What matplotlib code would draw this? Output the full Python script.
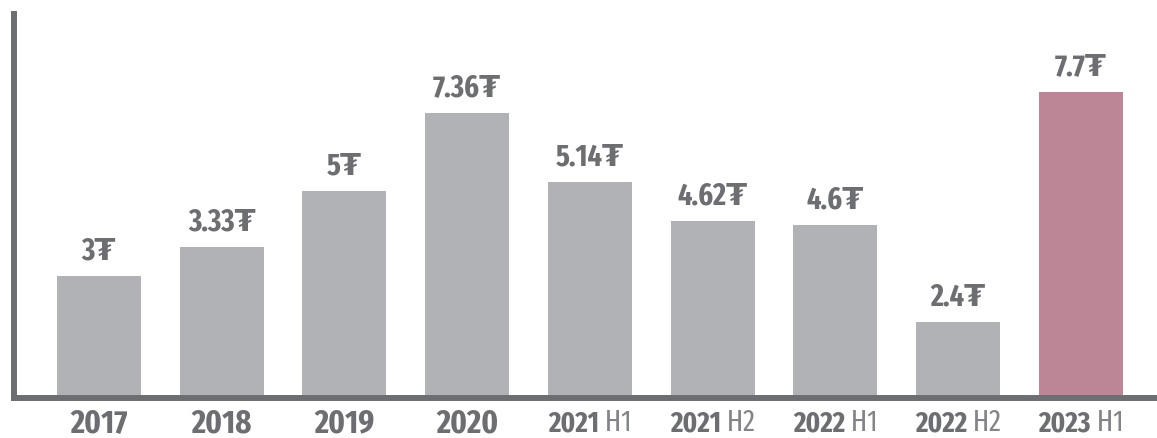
import matplotlib
matplotlib.use("Agg")
import matplotlib.pyplot as plt
import numpy as np

# データ
years = ["2017", "2018", "2019", "2020", "2021", "2021", "2022", "2022", "2023"]
halves = ["", "", "", "", "H1", "H2", "H1", "H2", "H1"]
values = ["3", "3.33", "5", "7.36", "5.14", "4.62", "4.6", "2.4", "7.7"]
# 図の棒の高さ
bar_heights = [3.07, 3.80, 5.21, 7.17, 5.44, 4.45, 4.35, 1.91, 7.70]

gray = "#B1B2B6"
pink = "#BD8697"
dark = "#6D6E71"
light = "#838488"
font = ["Fira Sans Extra Condensed", "Open Sans Condensed", "Liberation Sans Narrow", "DejaVu Sans"]

fig = plt.figure(figsize=(11.57, 4.38), dpi=100)
ax = fig.add_axes([14 / 1157, 1 - 398 / 438, 1 - 14 / 1157, 387 / 438])

x = np.arange(len(years))
colors = [gray] * (len(years) - 1) + [pink]
bars = ax.bar(x, bar_heights, width=0.684, color=colors, zorder=1)

# 値ラベル
for b, v in zip(bars, values):
    ax.annotate(v + "\u20ae", (b.get_x() + b.get_width() / 2, b.get_height()),
                xytext=(0, 12), textcoords="offset points", ha="center", va="baseline",
                fontsize=22, fontweight="bold", color=dark, family=font)

ax.set_xlim(-0.692, 8.62)
ax.set_ylim(0, 9.74)
ax.set_xticks([])
ax.set_yticks([])
for s in ["top", "right"]:
    ax.spines[s].set_visible(False)
for s in ["left", "bottom"]:
    ax.spines[s].set_linewidth(4.3)
    ax.spines[s].set_color(dark)
    ax.spines[s].set_zorder(3)
ax.spines["left"].set_capstyle("butt")

# x軸ラベル（年は太字、H1/H2は細字）
trans = ax.get_xaxis_transform()
pairs = []
for i, (y, h) in enumerate(zip(years, halves)):
    if h == "":
        ax.annotate(y, (x[i], 0), xycoords=trans, xytext=(0, -24.5), textcoords="offset points",
                    ha="center", va="baseline", fontsize=24, fontweight="bold",
                    color=dark, family=font)
    else:
        t1 = ax.annotate(y, (x[i], 0), xycoords=trans, xytext=(0, -24), textcoords="offset points",
                         ha="left", va="baseline", fontsize=21, fontweight="bold",
                         color=dark, family=font)
        t2 = ax.annotate("\u2009" + h, (x[i], 0), xycoords=trans, xytext=(0, -24), textcoords="offset points",
                         ha="left", va="baseline", fontsize=21, fontweight="normal",
                         color=light, family=font)
        pairs.append((t1, t2))

fig.canvas.draw()
r = fig.canvas.get_renderer()
for t1, t2 in pairs:
    w1 = t1.get_window_extent(r).width * 72 / fig.dpi
    w2 = t2.get_window_extent(r).width * 72 / fig.dpi
    start = -(w1 + w2) / 2
    t1.set_position((start, -24))
    t2.set_position((start + w1, -24))

fig.savefig("out.png", dpi=100)
